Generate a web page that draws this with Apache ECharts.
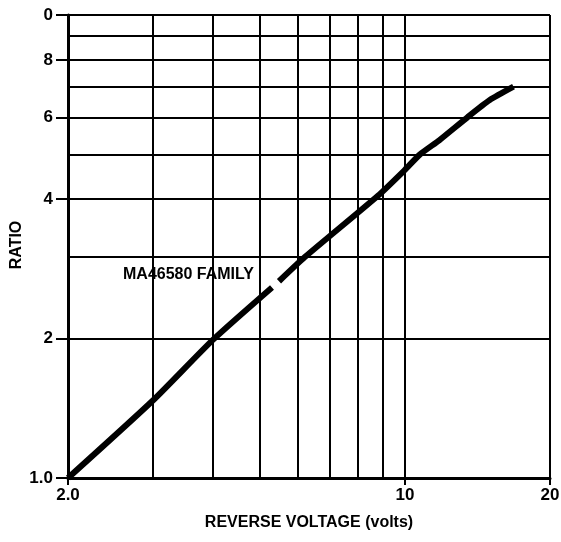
<!DOCTYPE html>
<html>
<head>
<meta charset="utf-8">
<script src="https://cdn.jsdelivr.net/npm/echarts@6/dist/echarts.min.js"></script>
<style>
  html, body { margin: 0; padding: 0; background: #fff; }
  #chart { width: 561px; height: 542px; }
</style>
</head>
<body>
<div id="chart"></div>
<script>
// reverse voltage (volts) vs ratio
// the null pair is the small break in the curve next to the label
const voltage = [2.0, 3.0, 4.0, 5.3, null, 5.48, 6.2, 8.79, 10.0, 10.75, 11.8, 13.5, 15.0, 16.8]
const ratio   = [1.0, 1.47, 1.99, 2.58, null, 2.66, 3.0, 4.07, 4.63, 5.0, 5.37, 6.02, 6.55, 7.0]

// grid lines and labelled ticks
const xGrid = [2, 3, 4, 5, 6, 7, 8, 9, 10, 20]
const yGrid = [1, 2, 3, 4, 5, 6, 7, 8, 9, 10]
const xLabels = [2, 10, 20]
const yLabels = [1, 2, 4, 6, 8, 10]

const FONT = 'Liberation Sans, Arial, sans-serif'

const chart = echarts.init(document.getElementById('chart'))

const lineData = voltage.map((v, i) => (v == null ? [null, null] : [v, ratio[i]]))

const fmt = v => Math.round(v * 100) / 100

chart.setOption({
  backgroundColor: '#fff',
  animation: false,
  grid: { left: 68, right: 11, top: 15, bottom: 64, containLabel: false, outerBoundsMode: 'none' },
  xAxis: [
    {
      type: 'log', logBase: 10, min: 2, max: 20,
      name: 'REVERSE VOLTAGE (volts)',
      nameLocation: 'middle', nameGap: 37,
      nameTextStyle: { color: '#000', fontFamily: FONT, fontWeight: 'bold', fontSize: 16 },
      axisLine: { lineStyle: { color: '#000', width: 3 } },
      axisTick: { show: false, customValues: xGrid },
      axisLabel: {
        customValues: xLabels, margin: 9,
        color: '#000', fontFamily: FONT, fontWeight: 'bold', fontSize: 17,
        formatter: v => (fmt(v) === 2 ? '2.0' : String(fmt(v))),
      },
      splitLine: { show: true, lineStyle: { color: '#000', width: 2 } },
    },
    {
      type: 'log', logBase: 10, min: 2, max: 20, position: 'bottom',
      axisLine: { show: false },
      axisTick: { show: true, customValues: xLabels, length: 7, lineStyle: { color: '#000', width: 2 } },
      axisLabel: { show: false },
      splitLine: { show: false },
    },
  ],
  yAxis: [
    {
      type: 'log', logBase: 10, min: 1, max: 10,
      axisLine: { lineStyle: { color: '#000', width: 3 } },
      axisTick: { show: false, customValues: yGrid },
      axisLabel: {
        customValues: yLabels, margin: 15,
        color: '#000', fontFamily: FONT, fontWeight: 'bold', fontSize: 17,
        formatter: v => {
          const n = fmt(v)
          if (n === 1) return '1.0'
          if (n === 10) return '0'
          return String(n)
        },
      },
      splitLine: { show: true, lineStyle: { color: '#000', width: 2 } },
    },
    {
      type: 'log', logBase: 10, min: 1, max: 10, position: 'left',
      axisLine: { show: false },
      axisTick: { show: true, customValues: yLabels, length: 12, lineStyle: { color: '#000', width: 2 } },
      axisLabel: { show: false },
      splitLine: { show: false },
    },
  ],
  graphic: [
    {
      type: 'text', x: 17, y: 245, rotation: Math.PI / 2,
      style: {
        text: 'RATIO', fill: '#000', font: 'bold 16px ' + FONT,
        align: 'center', verticalAlign: 'middle',
      },
    },
    {
      type: 'text', left: 123, top: 267,
      style: { text: 'MA46580 FAMILY', fill: '#000', font: 'bold 16px ' + FONT },
    },
  ],
  series: [
    {
      type: 'line',
      data: lineData,
      xAxisIndex: 0, yAxisIndex: 0,
      symbol: 'none',
      smooth: 0.2,
      connectNulls: false,
      lineStyle: { color: '#000', width: 6 },
      z: 5,
    },
  ],
})
</script>
</body>
</html>
